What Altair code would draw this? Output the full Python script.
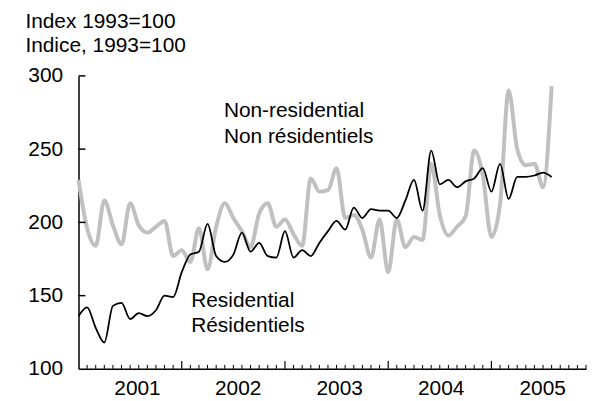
import json
import altair as alt
import pandas as pd

# Monthly index, January 2001 = 0
month_index = list(range(56))
residential = [136, 142, 128, 118, 143, 145, 134, 138, 136, 140,
               150, 149, 166, 178, 180, 199, 177, 173, 178, 193,
               180, 186, 177, 176, 194, 176, 181, 177, 186, 194,
               201, 195, 210, 203, 209, 208, 208, 203, 215, 229,
               208, 249, 226, 229, 224, 228, 230, 237, 221, 240,
               216, 231, 231, 232, 234, 231]
non_residential = [229, 196, 184, 215, 198, 185, 213, 198, 193, 197,
                   201, 177, 181, 173, 196, 168, 197, 213, 203, 194,
                   183, 206, 213, 197, 202, 192, 184, 230, 221, 222,
                   237, 203, 205, 195, 176, 202, 166, 202, 183, 190,
                   188, 240, 205, 191, 197, 204, 249, 232, 190, 212,
                   290, 250, 239, 240, 224, 293]

year_labels = ["2001", "2002", "2003", "2004", "2005"]
year_centres = [6.8, 18.5, 30.3, 42.1, 53.9]
minor_ticks = [m for m in range(1, 60) if m % 12 != 0]
major_ticks = [12, 24, 36, 48]
y_ticks = [100, 150, 200, 250, 300]

ann_text = ["Non-residential", "Non résidentiels", "Residential", "Résidentiels"]
ann_x = [16.9, 16.9, 13.1, 13.1]
ann_y = [276, 258.5, 146, 129]

W, H = 511, 295
FONT = "Liberation Sans"
FS = 21

df = pd.DataFrame({"m": month_index, "res": residential, "nonres": non_residential})
ann = pd.DataFrame({"t": ann_text, "x": ann_x, "y": ann_y})

xscale = alt.Scale(domain=[0, 59], nice=False, zero=False)
yscale = alt.Scale(domain=[100, 300], nice=False, zero=False)

label_expr = json.dumps(year_labels) + "[floor(datum.value / 12)]"

x_axis = alt.Axis(values=year_centres, labelExpr=label_expr, ticks=False, tickSize=0,
                  grid=False, domainColor="black", domainWidth=1.5, labelFontSize=FS,
                  labelFont=FONT, labelColor="black", labelPadding=9, title=None,
                  labelFlush=False, labelOverlap=False)
y_axis = alt.Axis(values=y_ticks, ticks=False, tickSize=0, grid=False,
                  domainColor="black", domainWidth=1.5, labelFontSize=FS, labelFont=FONT,
                  labelColor="black", labelPadding=16,
                  title=["Index 1993=100", "Indice, 1993=100"], titleAngle=0,
                  titleAlign="left", titleBaseline="alphabetic", titleX=-54, titleY=-49,
                  titleFontSize=FS, titleFont=FONT, titleFontWeight="normal",
                  titleLineHeight=24, titleColor="black")

base = alt.Chart(df)

gray = base.mark_line(color="#c0c0c0", strokeWidth=4, interpolate="monotone").encode(
    x=alt.X("m:Q", scale=xscale, axis=x_axis),
    y=alt.Y("nonres:Q", scale=yscale, axis=y_axis),
)
black = base.mark_line(color="black", strokeWidth=1.8, interpolate="monotone").encode(
    x=alt.X("m:Q", scale=xscale),
    y=alt.Y("res:Q", scale=yscale),
)

minor = alt.Chart(pd.DataFrame({"m": minor_ticks})).mark_rule(color="black", strokeWidth=1).encode(
    x=alt.X("m:Q", scale=xscale), y=alt.value(H), y2=alt.value(H - 4))
major = alt.Chart(pd.DataFrame({"m": major_ticks})).mark_rule(color="black", strokeWidth=1.2).encode(
    x=alt.X("m:Q", scale=xscale), y=alt.value(H), y2=alt.value(H - 8))
yt = alt.Chart(pd.DataFrame({"v": y_ticks[1:]})).mark_rule(color="black", strokeWidth=1.5).encode(
    y=alt.Y("v:Q", scale=yscale), x=alt.value(0), x2=alt.value(7))

text = alt.Chart(ann).mark_text(align="left", baseline="middle", fontSize=FS, font=FONT,
                                color="black").encode(
    x=alt.X("x:Q", scale=xscale), y=alt.Y("y:Q", scale=yscale), text="t:N")

chart = alt.layer(gray, black, minor, major, yt, text).properties(
    width=W, height=H,
    autosize=alt.AutoSizeParams(type="none"),
    padding={"left": 71, "top": 67, "right": 4, "bottom": 31},
).configure_view(stroke="transparent")

chart.save("out.html", embed_options={"renderer": "svg", "actions": False})
